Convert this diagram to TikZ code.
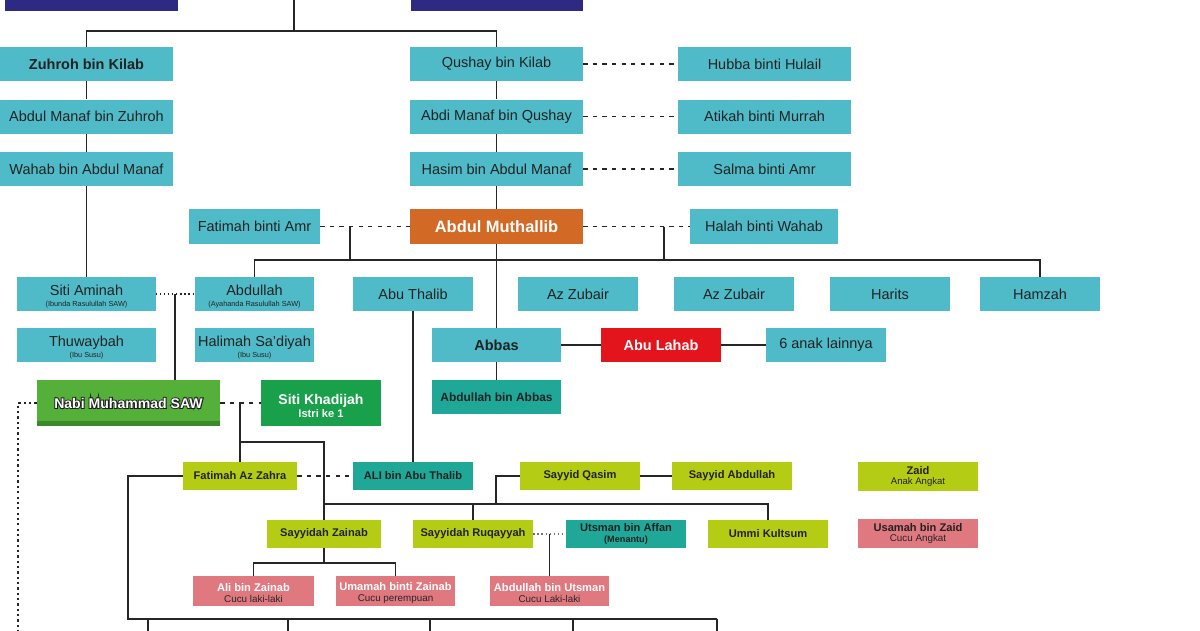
\documentclass[tikz,border=0pt]{standalone}
\usepackage{fontspec}
\setmainfont{Liberation Sans}
\usetikzlibrary{positioning,calc}

\definecolor{kinTeal}{HTML}{50BBC8}
\definecolor{kinNavy}{HTML}{2E2A84}
\definecolor{kinOrange}{HTML}{D26A26}
\definecolor{kinRed}{HTML}{E3141C}
\definecolor{kinDeep}{HTML}{1FA898}
\definecolor{kinLime}{HTML}{B5CC14}
\definecolor{kinGreen}{HTML}{55B03A}
\definecolor{kinShade}{HTML}{3A8A2C}
\definecolor{kinKhadijah}{HTML}{19A04A}
\definecolor{kinPink}{HTML}{E07880}
\definecolor{kinInk}{HTML}{222222}
\definecolor{kinSub}{HTML}{262626}
\definecolor{kinLine}{HTML}{262626}

\newcommand{\subLabel}[1]{{\fontsize{5.2}{6}\selectfont #1}}
\newcommand{\cucuLabel}[1]{{\mdseries\fontsize{7}{8}\selectfont\color{kinSub}#1}}
\newcommand{\outlineText}[1]{\rlap{\special{pdf:literal direct 1 Tr 1.3 w 0.12 0.12 0.12 RG}#1\special{pdf:literal direct 0 Tr}}#1}

\begin{document}
\begin{tikzpicture}[
    x=0.025cm, y=-0.025cm,
    box/.style={inner sep=0pt, minimum height=0.85cm, align=center, text=kinInk, font=\fontsize{10.3}{11}\selectfont},
    ancestorBox/.style={box, fill=kinTeal, minimum width=4.325cm},
    childBox/.style={box, fill=kinTeal, minimum width=3cm},
    boldBox/.style={font=\bfseries\fontsize{10.3}{11}\selectfont},
    smallBox/.style={box, minimum height=0.7cm, minimum width=3cm, font=\bfseries\fontsize{7.9}{9}\selectfont},
    limeBox/.style={smallBox, fill=kinLime},
    deepBox/.style={smallBox, fill=kinDeep},
    pinkBox/.style={smallBox, fill=kinPink, minimum height=0.75cm, text=white},
    familyLine/.style={draw=kinLine, line width=0.9pt},
    spouseLine/.style={draw=kinLine, line width=1pt, dash pattern=on 3pt off 3.8pt},
    milkLine/.style={draw=kinLine, line width=0.9pt, dotted},
    adoptLine/.style={draw=kinLine, line width=0.9pt, dash pattern=on 1.6pt off 2.2pt}
]
\useasboundingbox (0,0) rectangle (1200,630);

\node[box, fill=kinNavy, minimum width=4.325cm, minimum height=0.9cm] (topLeft) at (91.5,-7) {};
\node[box, fill=kinNavy, minimum width=4.3cm, minimum height=0.9cm] (topRight) at (497,-7) {};

\node[ancestorBox, boldBox] (zuhroh) at (86.5,64) {Zuhroh bin Kilab};
\node[ancestorBox, below=0.45cm of zuhroh] (manafZuhroh) {Abdul Manaf bin Zuhroh};
\node[ancestorBox, below=0.45cm of manafZuhroh] (wahab) {Wahab bin Abdul Manaf};

\node[ancestorBox] (qushay) at (496.5,64) {Qushay bin Kilab};
\node[ancestorBox, below=0.45cm of qushay] (abdiManaf) {Abdi Manaf bin Qushay};
\node[ancestorBox, below=0.45cm of abdiManaf] (hasim) {Hasim bin Abdul Manaf};

\node[ancestorBox] (hubba) at (764.5,64) {Hubba binti Hulail};
\node[ancestorBox, below=0.45cm of hubba] (atikah) {Atikah binti Murrah};
\node[ancestorBox, below=0.45cm of atikah] (salma) {Salma binti Amr};

\node[ancestorBox, fill=kinOrange, text=white, font=\bfseries\fontsize{11.7}{13}\selectfont] (muthallib) at (496.5,226.5) {Abdul Muthallib};
\node[childBox, minimum width=3.275cm] (fatimahAmr) at (254.5,226.5) {Fatimah binti Amr};
\node[childBox, minimum width=3.7cm] (halah) at (764,226.5) {Halah binti Wahab};

\node[childBox, minimum width=3.45cm] (aminah) at (86.5,294) {\rule{0pt}{11pt}Siti Aminah\\[-2.5pt]\subLabel{(Ibunda Rasulullah SAW)}};
\node[childBox, minimum width=2.975cm] (abdullah) at (254.5,294) {\rule{0pt}{11pt}Abdullah\\[-2.5pt]\subLabel{(Ayahanda Rasulullah SAW)}};
\node[childBox] (abuThalib) at (413,294) {Abu Thalib};
\node[childBox] (zubairA) at (578,294) {Az Zubair};
\node[childBox] (zubairB) at (734,294) {Az Zubair};
\node[childBox] (harits) at (890,294) {Harits};
\node[childBox] (hamzah) at (1040,294) {Hamzah};

\node[childBox, minimum width=3.45cm] (thuwaybah) at (86.5,345) {\rule{0pt}{11pt}Thuwaybah\\[-2.5pt]\subLabel{(Ibu Susu)}};
\node[childBox, minimum width=2.975cm] (halimah) at (254.5,345) {\rule{0pt}{11pt}Halimah Sa'diyah\\[-2.5pt]\subLabel{(Ibu Susu)}};
\node[childBox, boldBox, minimum width=3.225cm] (abbas) at (496.5,345) {Abbas};
\node[childBox, boldBox, fill=kinRed, text=white] (abuLahab) at (661,345) {Abu Lahab};
\node[childBox] (anakLain) at (826,345) {6 anak lainnya};
\node[deepBox, minimum width=3.225cm, minimum height=0.85cm, font=\bfseries\fontsize{8.5}{10}\selectfont] (abdullahAbbas) at (496.5,397) {Abdullah bin Abbas};

\node[box, fill=kinGreen, text=white, minimum width=4.575cm, minimum height=1.15cm,
      font=\bfseries\fontsize{10}{11}\selectfont,
      path picture={\fill[kinShade] (path picture bounding box.south west) rectangle ([yshift=0.125cm]path picture bounding box.south east);}] (nabi) at (128.5,403) {\outlineText{Nabi Muhammad SAW}};
\node[box, fill=kinKhadijah, text=white, minimum width=3cm, minimum height=1.125cm,
      font=\bfseries\fontsize{10}{11}\selectfont] (khadijah) at (321,403) {\rule{0pt}{11pt}Siti Khadijah\\[-2pt]{\fontsize{7.9}{9}\selectfont Istri ke 1}};

\node[limeBox, minimum width=2.85cm] (fatimahZ) at (240,476) {Fatimah Az Zahra};
\node[deepBox] (ali) at (413,476) {ALI bin Abu Thalib};
\node[limeBox] (qasim) at (580,476) {Sayyid Qasim};
\node[limeBox] (sayyidAbdullah) at (732,476) {Sayyid Abdullah};
\node[limeBox, minimum height=0.725cm] (zaid) at (918,476.5) {Zaid\\[-1.5pt]{\mdseries\fontsize{6.8}{8}\selectfont Anak Angkat}};

\node[limeBox, minimum width=2.85cm] (zainab) at (324,534) {Sayyidah Zainab};
\node[limeBox] (ruqayyah) at (473,534) {Sayyidah Ruqayyah};
\node[deepBox] (utsman) at (626,534) {Utsman bin Affan\\[-1.5pt]{\fontsize{6.5}{7.5}\selectfont (Menantu)}};
\node[limeBox] (kultsum) at (768,534) {Ummi Kultsum};
\node[pinkBox, minimum height=0.725cm, text=kinInk] (usamah) at (918,533.5) {Usamah bin Zaid\\[-1.5pt]\cucuLabel{Cucu Angkat}};

\node[pinkBox, minimum width=3.025cm] (aliZainab) at (253.5,591) {\rule{0pt}{8.5pt}Ali bin Zainab\\[-1.5pt]\cucuLabel{Cucu laki-laki}};
\node[pinkBox, minimum width=2.975cm] (umamah) at (395.5,591) {\rule{0pt}{8.5pt}Umamah binti Zainab\\[-1.5pt]\cucuLabel{Cucu perempuan}};
\node[pinkBox, minimum width=2.975cm] (abdullahUtsman) at (549.5,591) {\rule{0pt}{8.5pt}Abdullah bin Utsman\\[-1.5pt]\cucuLabel{Cucu Laki-laki}};

\coordinate (kilabTop) at (294,-12);
\coordinate (kilabBar) at (294,31);
\draw[familyLine] (kilabTop) -- (kilabBar);
\draw[familyLine] (zuhroh.north) |- (kilabBar) -| (qushay.north);
\draw[familyLine] (zuhroh) -- (manafZuhroh) -- (wahab) -- (aminah);
\draw[familyLine] (qushay) -- (abdiManaf) -- (hasim) -- (muthallib) -- (abbas);
\draw[spouseLine] (qushay) -- (hubba);
\draw[spouseLine] (abdiManaf) -- (atikah);
\draw[spouseLine] (hasim) -- (salma);
\draw[spouseLine] (fatimahAmr) -- (muthallib);
\draw[spouseLine] (muthallib) -- (halah);

\coordinate (fatimahDrop) at (350,226.5);
\coordinate (halahDrop) at (664,226.5);
\coordinate (sonsBar) at (0,260);
\draw[familyLine] (fatimahDrop) -- (fatimahDrop |- sonsBar);
\draw[familyLine] (halahDrop) -- (halahDrop |- sonsBar);
\draw[familyLine] (abdullah.north) |- (sonsBar -| hamzah.north) -- (hamzah.north);

\draw[milkLine] (aminah) -- (abdullah);
\coordinate (parentsDrop) at (175,294);
\draw[familyLine] (parentsDrop) -- (parentsDrop |- nabi.north);

\draw[familyLine] (abbas) -- (abuLahab) -- (anakLain);
\draw[familyLine] (abbas) -- (abdullahAbbas);
\draw[familyLine] (abuThalib) -- (ali);

\draw[spouseLine] (nabi) -- (khadijah);
\coordinate (adoptRail) at (18,645);
\draw[adoptLine] (nabi.west) -| (adoptRail);

\coordinate (khadijahDrop) at (240,403);
\coordinate (daughtersBar) at (240,442);
\coordinate (sistersBar) at (0,504);
\coordinate (qasimDrop) at (496,504);
\draw[familyLine] (khadijahDrop) -- (fatimahZ.north);
\draw[familyLine] (daughtersBar) -| (zainab.north);
\draw[familyLine] (sistersBar -| zainab.north) -| (kultsum.north);
\draw[familyLine] (ruqayyah.north) -- (ruqayyah.north |- sistersBar);
\draw[familyLine] (qasimDrop) |- (qasim.west);
\draw[familyLine] (qasim) -- (sayyidAbdullah);
\draw[spouseLine] (fatimahZ) -- (ali);

\coordinate (grandsCorner) at (128,619);
\coordinate (grandsEnd) at (717,619);
\draw[familyLine] (fatimahZ.west) -| (grandsCorner) -- (grandsEnd);
\foreach \gx in {148,288,430,573,717} {
  \coordinate (grand\gx) at (\gx,645);
  \draw[familyLine] (grand\gx |- grandsCorner) -- (grand\gx);
}

\coordinate (zainabBar) at (324,563);
\draw[familyLine] (zainab) -- (zainabBar);
\draw[familyLine] (aliZainab.north) |- (zainabBar) -| (umamah.north);

\draw[milkLine, draw=black!55] (ruqayyah) -- (utsman);
\coordinate (utsmanDrop) at (549.5,534);
\draw[familyLine] (utsmanDrop) -- (abdullahUtsman.north);
\end{tikzpicture}
\end{document}
